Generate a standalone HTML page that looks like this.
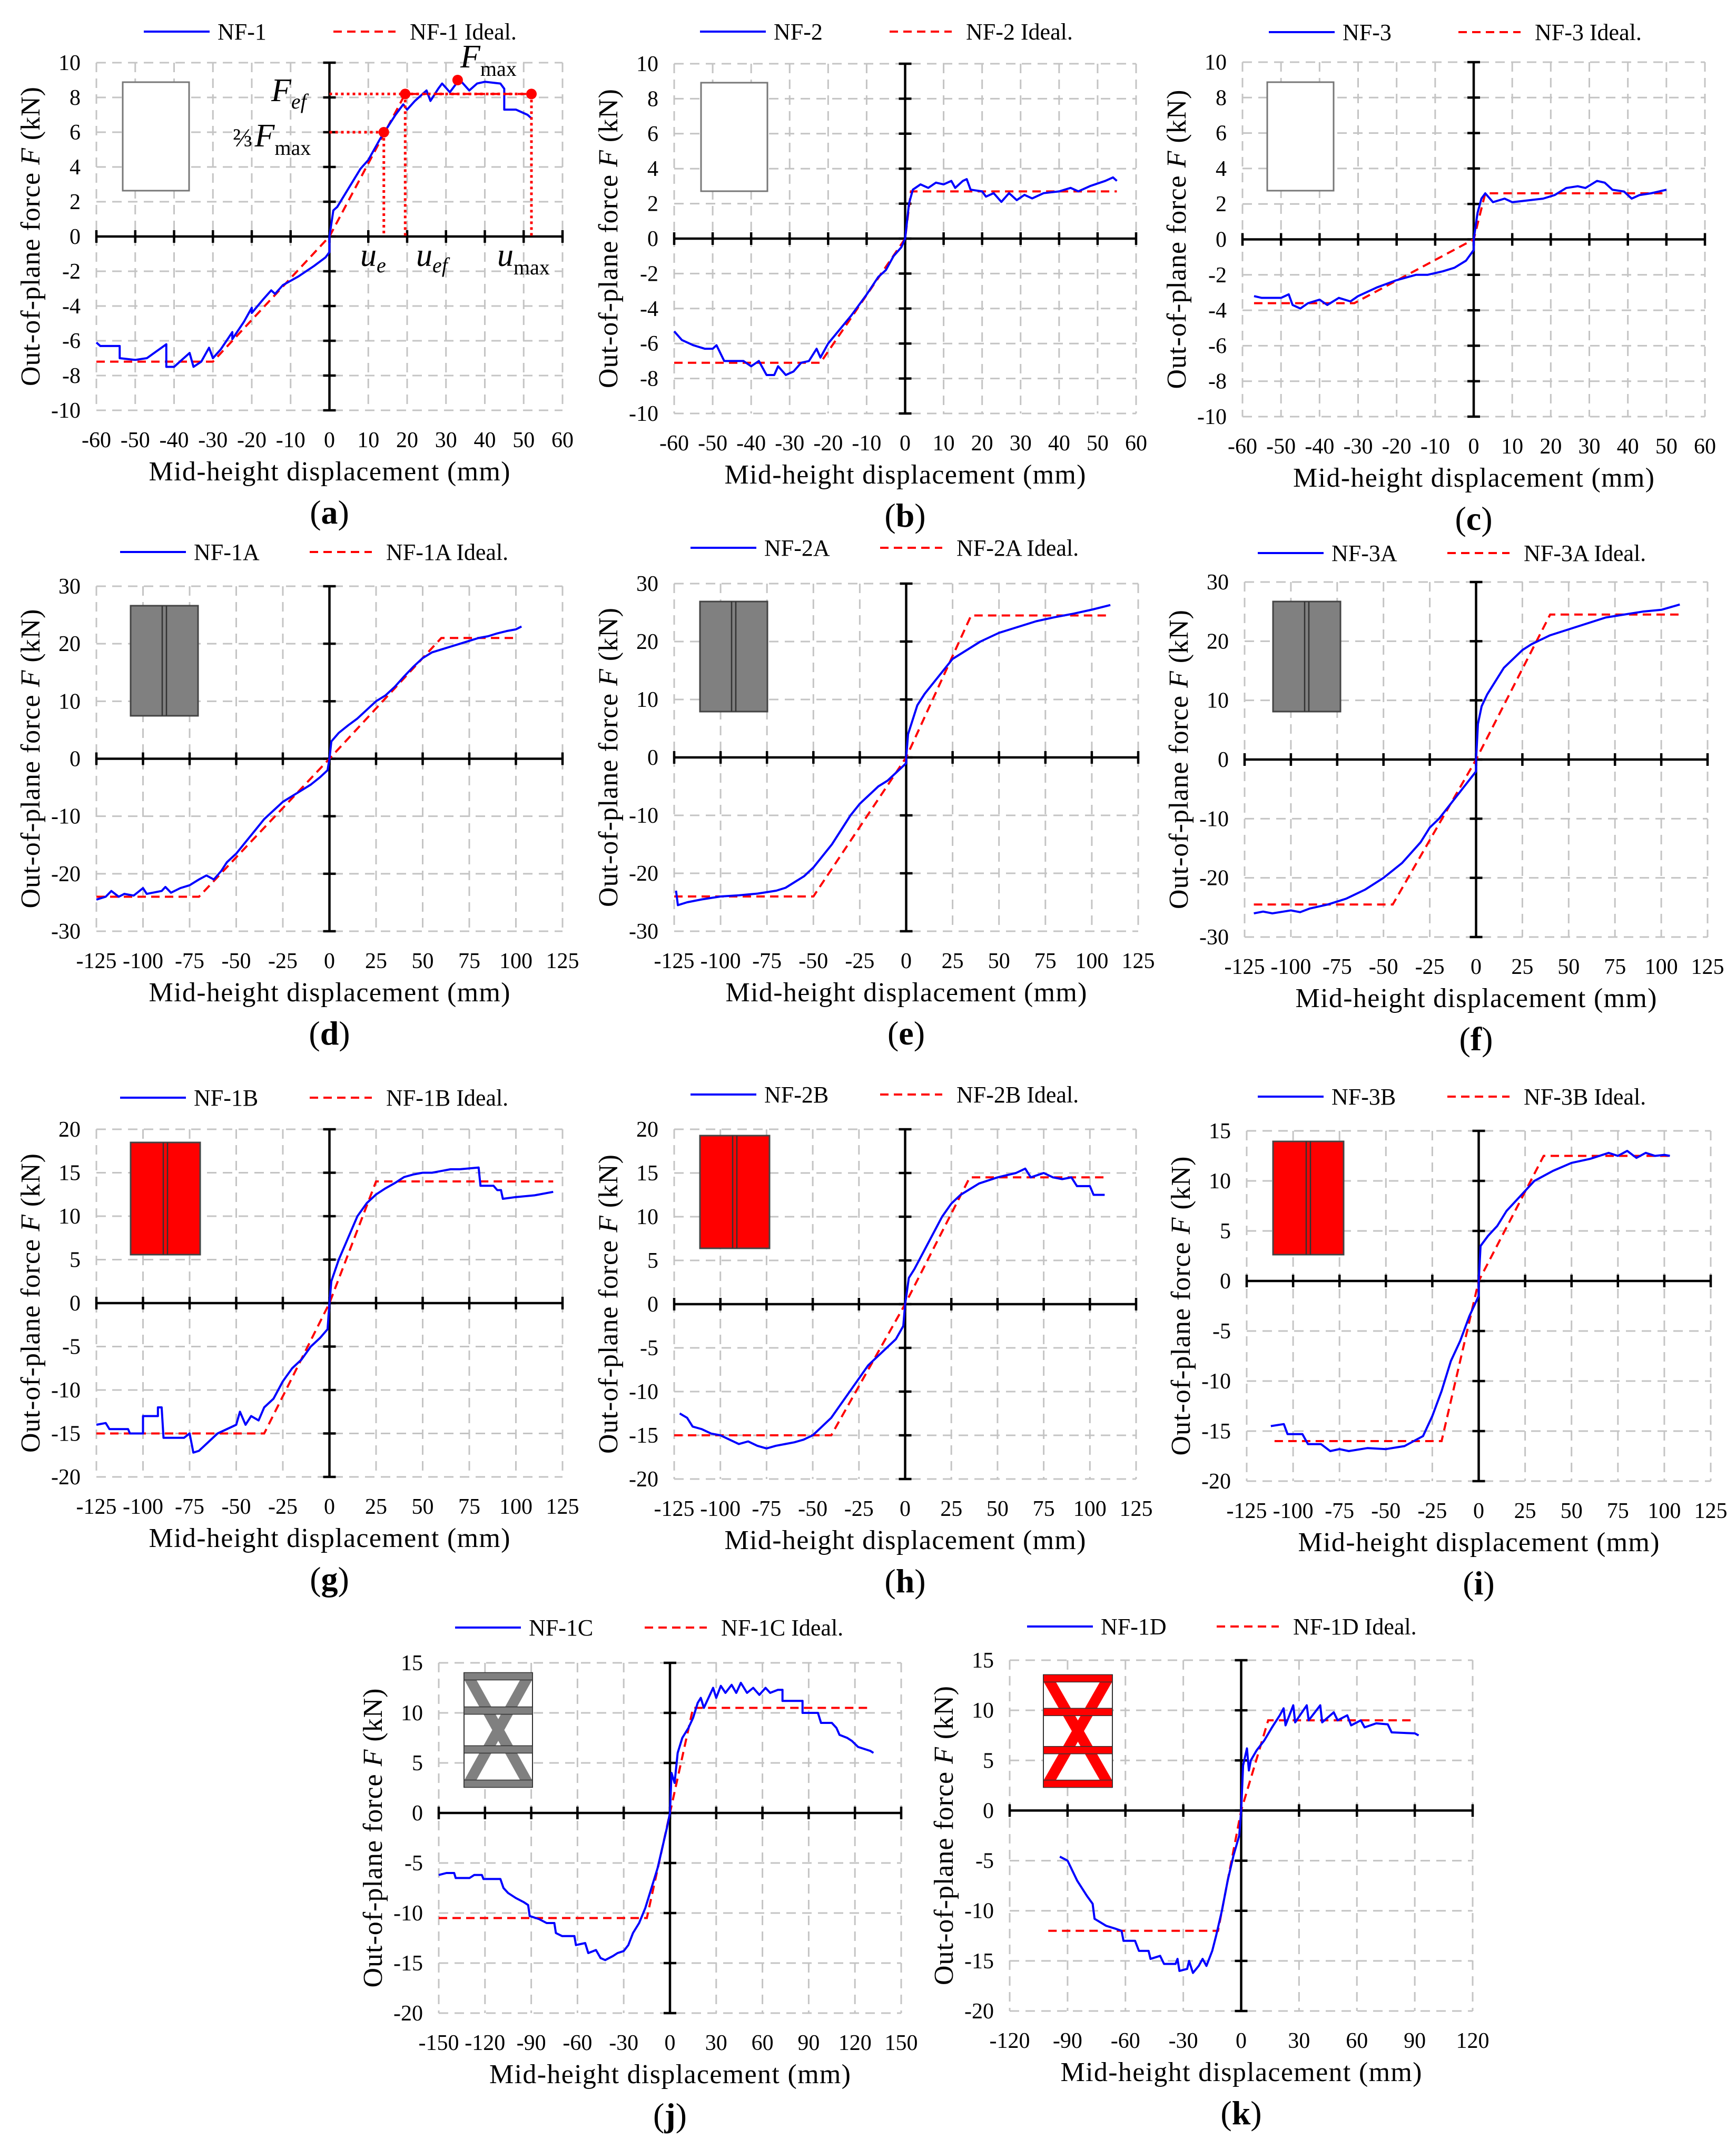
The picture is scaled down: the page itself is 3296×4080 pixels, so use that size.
<!DOCTYPE html>
<html><head><meta charset="utf-8"><title>Out-of-plane force vs mid-height displacement</title>
<style>
html,body{margin:0;padding:0;background:#fff;}
svg{display:block;font-family:"Liberation Serif","DejaVu Serif",serif;}
</style></head>
<body>
<svg id="fig" xmlns="http://www.w3.org/2000/svg" width="3296" height="4080" viewBox="0 0 3296 4080"></svg>
<script>
// ---- Tick label arrays ----
const xt60 = [-60,-50,-40,-30,-20,-10,0,10,20,30,40,50,60];
const xt125 = [-125,-100,-75,-50,-25,0,25,50,75,100,125];
const xt150 = [-150,-120,-90,-60,-30,0,30,60,90,120,150];
const xt120 = [-120,-90,-60,-30,0,30,60,90,120];
const yt10 = [-10,-8,-6,-4,-2,0,2,4,6,8,10];
const yt30 = [-30,-20,-10,0,10,20,30];
const yt20 = [-20,-15,-10,-5,0,5,10,15,20];
const yt15 = [-20,-15,-10,-5,0,5,10,15];

// ---- (a) NF-1 ----
const aX = [-60,-59,-54,-54,-50,-47,-42,-42,-40,-38,-36,-35,-33,-31,-30,-28,-25,-25,-22,-20,-20,-17,-15,-14,-12,-8,-4,-1,0,0,1,2,5,8,10,13,15,17,19,20,22,25,26,28,29,31,33,34,36,38,40,44,45,45,48,51,52];
const aY = [-6.1,-6.3,-6.3,-7.0,-7.1,-7.0,-6.2,-7.5,-7.5,-7.1,-6.7,-7.5,-7.2,-6.4,-7.0,-6.5,-5.5,-5.9,-4.9,-4.1,-4.4,-3.6,-3.1,-3.3,-2.8,-2.3,-1.7,-1.2,-0.9,0,1.5,1.7,2.8,3.9,4.4,5.6,6.3,7.0,7.6,7.3,7.8,8.4,7.8,8.5,8.8,8.3,8.9,8.9,8.4,8.8,8.9,8.8,8.5,7.3,7.3,7.0,6.8];
const aIX = [-60,-30,0,19.5,52];
const aIY = [-7.2,-7.2,0,8.2,8.2];
// ---- (b) NF-2 ----
const bX = [-60,-58,-55,-52,-50,-49,-47,-42,-40,-38,-36,-34,-33,-31,-29,-27,-25,-23,-22,-20,-17,-14,-10,-7,-5,-3,-1,0,0.5,1,2,4,6,8,10,12,13,15,16,17,20,21,23,25,27,29,31,33,36,40,43,45,48,52,54,55];
const bY = [-5.3,-5.8,-6.1,-6.3,-6.3,-6.1,-7.0,-7.0,-7.3,-7.0,-7.8,-7.8,-7.3,-7.8,-7.6,-7.1,-7.0,-6.3,-6.8,-6.0,-5.2,-4.4,-3.2,-2.2,-1.8,-1.0,-0.5,0,1,2.0,2.8,3.1,2.9,3.2,3.1,3.3,2.9,3.3,3.4,2.8,2.7,2.4,2.6,2.1,2.6,2.2,2.5,2.3,2.6,2.7,2.9,2.7,3.0,3.3,3.5,3.3];
const bIX = [-60,-22,0,1.5,55];
const bIY = [-7.1,-7.1,0,2.7,2.7];
// ---- (c) NF-3 ----
const cX = [-57,-55,-50,-48,-47,-45,-43,-40,-38,-35,-32,-30,-28,-25,-20,-15,-12,-8,-5,-2,0,0,1,2,3,5,8,10,14,18,21,24,27,29,32,34,36,39,41,43,46,50];
const cY = [-3.2,-3.3,-3.3,-3.1,-3.7,-3.9,-3.6,-3.4,-3.7,-3.3,-3.5,-3.2,-3.0,-2.7,-2.3,-2.0,-2.0,-1.8,-1.6,-1.2,-0.6,0,1.5,2.3,2.6,2.1,2.3,2.1,2.2,2.3,2.5,2.9,3.0,2.9,3.3,3.2,2.8,2.7,2.3,2.5,2.6,2.8];
const cIX = [-57,-31,0,3,50];
const cIY = [-3.6,-3.6,0,2.6,2.6];
// ---- (d) NF-1A ----
const dX = [-125,-120,-117,-113,-110,-105,-100,-98,-90,-88,-85,-80,-75,-70,-66,-62,-58,-55,-50,-45,-40,-35,-30,-25,-20,-15,-10,-5,-1,0,1,5,10,15,20,25,30,35,40,45,50,55,60,65,70,75,80,85,90,95,100,103];
const dY = [-24.5,-24,-23,-24,-23.5,-23.8,-22.5,-23.5,-23,-22.3,-23.3,-22.5,-22,-21,-20.3,-21,-19.5,-18,-16.5,-14.5,-12.5,-10.5,-9,-7.5,-6.5,-5.5,-4.5,-3.2,-2,0,3,4.5,5.8,7,8.5,10,11,12.5,14.3,16,17.5,18.5,19,19.5,20,20.5,21,21.3,21.8,22.2,22.5,23];
const dIX = [-125,-70,0,60,100];
const dIY = [-24,-24,0,21,21];
// ---- (e) NF-2A ----
const eX = [-124,-123,-118,-110,-100,-90,-80,-70,-65,-60,-55,-50,-45,-40,-35,-30,-25,-20,-15,-10,-5,0,0,1,3,6,10,15,20,25,30,40,50,60,70,80,90,100,110];
const eY = [-23,-25.5,-25,-24.5,-24,-23.8,-23.5,-23,-22.5,-21.5,-20.5,-19,-17,-15,-12.5,-10,-8,-6.5,-5,-4,-2.5,-1,0,4,6,9,11,13,15,17,18,20,21.5,22.5,23.5,24.2,24.8,25.5,26.3];
const eIX = [-125,-50,0,35,110];
const eIY = [-24,-24,0,24.5,24.5];
// ---- (f) NF-3A ----
const fX = [-120,-115,-110,-100,-95,-90,-80,-70,-60,-50,-40,-30,-25,-20,-15,-10,-5,0,0,1,3,6,10,15,20,25,30,40,50,60,70,80,90,100,110];
const fY = [-26,-25.7,-26,-25.5,-25.8,-25.2,-24.5,-23.5,-22,-20,-17.5,-14,-11.5,-10,-8,-6,-4,-2,0,6,9,11,13,15.5,17,18.5,19.5,21,22,23,24,24.5,25,25.3,26.2];
const fIX = [-120,-45,0,40,110];
const fIY = [-24.5,-24.5,0,24.5,24.5];
// ---- (g) NF-1B ----
const gX = [-125,-120,-118,-108,-107,-100,-100,-92,-92,-90,-89,-78,-75,-73,-70,-65,-60,-55,-50,-48,-45,-42,-38,-35,-30,-25,-20,-15,-10,-5,-1,0,1,5,10,15,20,25,30,35,40,45,50,55,60,65,70,75,80,81,88,90,92,93,100,110,120];
const gY = [-14,-13.8,-14.5,-14.5,-15,-15,-13,-13,-12,-12,-15.5,-15.5,-15,-17.2,-17,-16,-15,-14.5,-14,-12.5,-14,-13,-13.5,-12,-11,-9,-7.5,-6.5,-5,-4,-3,0,2.5,5,7.5,10,11.5,12.5,13.2,13.8,14.5,14.8,15,15,15.2,15.4,15.4,15.5,15.6,13.5,13.5,13,13,12,12.2,12.4,12.8];
const gIX = [-125,-35,0,25,120];
const gIY = [-15,-15,0,14,14];
// ---- (h) NF-2B ----
const hX = [-122,-118,-115,-110,-105,-100,-95,-90,-85,-80,-75,-70,-65,-60,-55,-50,-45,-40,-35,-30,-25,-20,-15,-10,-5,-1,0,2,5,10,15,20,25,30,40,50,60,65,68,75,80,85,90,93,100,102,108];
const hY = [-12.5,-13,-14,-14.3,-14.8,-15,-15.5,-16,-15.7,-16.2,-16.5,-16.2,-16,-15.8,-15.5,-15,-14,-13,-11.5,-10,-8.5,-7,-6,-5,-4,-2.5,0,3,4,6,8,10,11.5,12.5,13.8,14.5,15,15.5,14.5,15,14.5,14.3,14.5,13.5,13.5,12.5,12.5];
const hIX = [-125,-40,0,35,108];
const hIY = [-15,-15,0,14.5,14.5];
// ---- (i) NF-3B ----
const iX = [-112,-105,-103,-95,-92,-85,-80,-75,-70,-60,-50,-40,-30,-25,-20,-15,-10,-5,0,0,1,5,10,15,20,25,30,40,50,60,70,75,80,85,90,95,100,103];
const iY = [-14.5,-14.3,-15.3,-15.3,-16.3,-16.3,-17,-16.8,-17,-16.7,-16.8,-16.5,-15.5,-13.5,-11,-8,-6,-3.5,-1.5,0,3.5,4.5,5.5,7,8,9,10,11,11.8,12.2,12.8,12.5,13,12.3,12.8,12.5,12.6,12.5];
const iIX = [-110,-20,0,35,103];
const iIY = [-16,-16,0,12.5,12.5];
// ---- (j) NF-1C ----
const jX = [-150,-145,-140,-139,-130,-127,-122,-121,-110,-108,-105,-100,-95,-92,-91,-85,-80,-75,-74,-70,-62,-61,-55,-53,-48,-45,-42,-37,-34,-30,-27,-24,-20,-16,-12,-8,-5,-2,0,1,3,5,8,12,15,18,20,22,25,28,30,33,36,40,43,46,50,54,58,62,65,70,73,73,86,86,96,98,105,108,110,115,118,122,130,132];
const jY = [-6.2,-6,-6,-6.5,-6.5,-6.2,-6.2,-6.6,-6.6,-7.5,-8,-8.5,-8.9,-9.2,-10.3,-10.6,-11,-11,-12,-12.3,-12.3,-13.2,-13,-14,-13.7,-14.5,-14.7,-14.3,-14,-13.8,-13.2,-12,-11,-9.5,-7.5,-5.5,-3.5,-1.5,0,4,3,6,7.5,8.5,9.5,11,11.5,10.5,11.5,12.5,11.5,12.7,12,12.8,12,13,12,12.5,11.8,12.5,12,12.3,12.3,11.2,11.2,10,10,9,9,8.5,7.8,7.5,7.2,6.6,6.2,6];
const jIX = [-150,-15,0,15,130];
const jIY = [-10.5,-10.5,0,10.5,10.5];
// ---- (k) NF-1D ----
const kX = [-94,-90,-85,-80,-77,-76,-70,-65,-62,-61,-55,-53,-48,-47,-42,-40,-34,-33,-32,-28,-27,-25,-22,-20,-18,-15,-13,-10,-7,-4,-1,0,1,3,4,5,8,12,16,20,22,23,27,28,34,35,41,42,48,50,55,57,62,64,70,76,78,90,92];
const kY = [-4.6,-5,-7,-8.5,-9.3,-10.8,-11.5,-11.8,-12,-13,-13,-14,-14,-14.8,-14.5,-15.3,-15.3,-14.8,-16,-15.8,-15,-16.2,-15.5,-14.8,-15.5,-14,-12.5,-10,-7,-4.5,-2.5,0,4.5,6.2,4,5,6,7,8.3,9.5,10.2,8.5,10.5,8.8,10.5,9,10.5,8.8,9.8,9,9.5,8.5,9,8.3,8.7,8.6,7.8,7.7,7.5];
const kIX = [-100,-12,0,14,90];
const kIY = [-12,-12,0,9,9];

// ---- (a) annotation points ----
const annX = [14,19.5,33,52];
const annY = [6,8.2,9,8.2];

const NS = "http://www.w3.org/2000/svg";
const svg = document.getElementById('fig');
function mk(tag, attrs, parent){
  const e = document.createElementNS(NS, tag);
  for (const k in attrs) e.setAttribute(k, attrs[k]);
  (parent||svg).appendChild(e);
  return e;
}
function txt(str, x, y, size, anchor, parent, extra){
  const t = mk('text', Object.assign({x:x, y:y, 'font-size':size, 'text-anchor':anchor||'middle', fill:'#000'}, extra||{}), parent);
  t.textContent = str;
  return t;
}

const panels = [
 {id:'a', L:183, R:1068, T:119, B:779, xr:[-60,60], yr:[-10,10], xt:xt60, yt:yt10, X:aX, Y:aY, IX:aIX, IY:aIY, name:'NF-1', lg:[273,60], inset:'white', ins:[50,37,126,206]},
 {id:'b', L:1280, R:2157, T:121, B:785, xr:[-60,60], yr:[-10,10], xt:xt60, yt:yt10, X:bX, Y:bY, IX:bIX, IY:bIY, name:'NF-2', lg:[1329,60], inset:'white', ins:[51,36,126,206]},
 {id:'c', L:2359, R:3237, T:118, B:791, xr:[-60,60], yr:[-10,10], xt:xt60, yt:yt10, X:cX, Y:cY, IX:cIX, IY:cIY, name:'NF-3', lg:[2409,61], inset:'white', ins:[47,38,126,206]},
 {id:'d', L:183, R:1068, T:1113, B:1768, xr:[-125,125], yr:[-30,30], xt:xt125, yt:yt30, X:dX, Y:dY, IX:dIX, IY:dIY, name:'NF-1A', lg:[228,1048], inset:'gray', ins:[65,37,128,209]},
 {id:'e', L:1280, R:2161, T:1108, B:1768, xr:[-125,125], yr:[-30,30], xt:xt125, yt:yt30, X:eX, Y:eY, IX:eIX, IY:eIY, name:'NF-2A', lg:[1311,1040], inset:'gray', ins:[49,34,128,209]},
 {id:'f', L:2363, R:3242, T:1105, B:1779, xr:[-125,125], yr:[-30,30], xt:xt125, yt:yt30, X:fX, Y:fY, IX:fIX, IY:fIY, name:'NF-3A', lg:[2388,1050], inset:'gray', ins:[54,37,128,209]},
 {id:'g', L:183, R:1068, T:2144, B:2804, xr:[-125,125], yr:[-20,20], xt:xt125, yt:yt20, X:gX, Y:gY, IX:gIX, IY:gIY, name:'NF-1B', lg:[228,2084], inset:'red', ins:[65,25,132,213]},
 {id:'h', L:1280, R:2157, T:2144, B:2808, xr:[-125,125], yr:[-20,20], xt:xt125, yt:yt20, X:hX, Y:hY, IX:hIX, IY:hIY, name:'NF-2B', lg:[1311,2078], inset:'red', ins:[49,12,132,214]},
 {id:'i', L:2367, R:3248, T:2147, B:2812, xr:[-125,125], yr:[-20,15], xt:xt125, yt:yt15, X:iX, Y:iY, IX:iIX, IY:iIY, name:'NF-3B', lg:[2388,2082], inset:'red', ins:[50,20,134,215]},
 {id:'j', L:833, R:1711, T:3157, B:3822, xr:[-150,150], yr:[-20,15], xt:xt150, yt:yt15, X:jX, Y:jY, IX:jIX, IY:jIY, name:'NF-1C', lg:[864,3090], inset:'lattice-gray', ins:[48,19,130,217]},
 {id:'k', L:1917, R:2796, T:3152, B:3818, xr:[-120,120], yr:[-20,15], xt:xt120, yt:yt15, X:kX, Y:kY, IX:kIX, IY:kIY, name:'NF-1D', lg:[1950,3088], inset:'lattice-red', ins:[64,28,131,213]}
];

function drawInset(p, g){
  const x = p.L + p.ins[0], y = p.T + p.ins[1], w = p.ins[2], h = p.ins[3];
  if (p.inset === 'white'){
    mk('rect', {x:x, y:y, width:w, height:h, fill:'#fff', stroke:'#777', 'stroke-width':3}, g);
  } else if (p.inset === 'gray' || p.inset === 'red'){
    const col = p.inset === 'gray' ? '#808080' : '#ff0000';
    mk('rect', {x:x, y:y, width:w, height:h, fill:col, stroke:'#444', 'stroke-width':3}, g);
    mk('line', {x1:x+w/2-4, y1:y, x2:x+w/2-4, y2:y+h, stroke:'#333', 'stroke-width':2.5}, g);
    mk('line', {x1:x+w/2+4, y1:y, x2:x+w/2+4, y2:y+h, stroke:'#333', 'stroke-width':2.5}, g);
  } else {
    const col = p.inset === 'lattice-gray' ? '#808080' : '#ff0000';
    mk('rect', {x:x, y:y, width:w, height:h, fill:'#fff', stroke:'#333', 'stroke-width':2}, g);
    mk('line', {x1:x+8, y1:y+6, x2:x+w-8, y2:y+h-6, stroke:col, 'stroke-width':20}, g);
    mk('line', {x1:x+w-8, y1:y+6, x2:x+8, y2:y+h-6, stroke:col, 'stroke-width':20}, g);
    [0.03, 0.33, 0.67, 0.97].forEach(f => {
      mk('rect', {x:x, y:y + f*h - 7, width:w, height:14, fill:col, stroke:'#333', 'stroke-width':1.5}, g);
    });
  }
}

panels.forEach(p => {
  const g = mk('g', {});
  
  
  const sx = v => p.L + (v - p.xr[0]) / (p.xr[1] - p.xr[0]) * (p.R - p.L);
  const sy = v => p.B - (v - p.yr[0]) / (p.yr[1] - p.yr[0]) * (p.B - p.T);

  const grid = mk('g', {stroke:'#c4c4c4', 'stroke-width':3, 'stroke-dasharray':'18,12', fill:'none'}, g);
  
  
  p.xt.forEach(v => { if (v !== 0) mk('line', {x1:sx(v), y1:p.T, x2:sx(v), y2:p.B}, grid); });
  p.yt.forEach(v => { if (v !== 0) mk('line', {x1:p.L, y1:sy(v), x2:p.R, y2:sy(v)}, grid); });

  const ax = mk('g', {stroke:'#000', 'stroke-width':4.5}, g);
  
  
  mk('line', {x1:p.L, y1:sy(0), x2:p.R, y2:sy(0)}, ax);
  mk('line', {x1:sx(0), y1:p.T, x2:sx(0), y2:p.B}, ax);
  p.xt.forEach(v => mk('line', {x1:sx(v), y1:sy(0)-12, x2:sx(v), y2:sy(0)+12}, ax));
  p.yt.forEach(v => mk('line', {x1:sx(0)-12, y1:sy(v), x2:sx(0)+12, y2:sy(v)}, ax));

  p.xt.forEach(v => {
    const t = txt(String(v), sx(v), p.B + 70, 42, 'middle', g);
    
    
  });
  p.yt.forEach(v => {
    const t = txt(String(v), p.L - 30, sy(v) + 14, 42, 'end', g);
    
    
  });

  const xtl = txt('Mid-height displacement (mm)', (p.L + p.R) / 2, p.B + 133, 52, 'middle', g, {textLength:686, lengthAdjust:'spacing'});
  
  
  const cy = (p.T + p.B) / 2, cx = p.L - 108;
  const ytl = mk('text', {x:cx, y:cy, 'font-size':52, 'text-anchor':'middle', transform:'rotate(-90 '+cx+' '+cy+')', textLength:568, lengthAdjust:'spacing'}, g);
  
  
  ytl.appendChild(document.createTextNode('Out-of-plane force '));
  const fi = mk('tspan', {'font-style':'italic'}, ytl); fi.textContent = 'F';
  ytl.appendChild(document.createTextNode(' (kN)'));

  const pl = mk('text', {x:(p.L+p.R)/2, y:p.B + 215, 'font-size':64, 'text-anchor':'middle'}, g);
  
  
  pl.appendChild(document.createTextNode('('));
  const b = mk('tspan', {'font-weight':'bold'}, pl); b.textContent = p.id;
  pl.appendChild(document.createTextNode(')'));

  const ig = mk('g', {}, g);
  
  
  drawInset(p, ig);

  const ideal = mk('polyline', {points:p.IX.map((v,i)=>sx(v)+','+sy(p.IY[i])).join(' '), fill:'none', stroke:'#ff0000', 'stroke-width':4, 'stroke-dasharray':'16,10'}, g);
  
  

  const test = mk('polyline', {points:p.X.map((v,i)=>sx(v)+','+sy(p.Y[i])).join(' '), fill:'none', stroke:'#0000ff', 'stroke-width':4, 'stroke-linejoin':'round'}, g);
  
  

  const lg = mk('g', {}, g);
  
  
  const X0 = p.lg[0], Y0 = p.lg[1];
  mk('line', {x1:X0, y1:Y0, x2:X0+125, y2:Y0, stroke:'#0000ff', 'stroke-width':4}, lg);
  const l1 = txt(p.name, X0+140, Y0+15, 44, 'start', lg);
  
  
  mk('line', {x1:X0+360, y1:Y0, x2:X0+478, y2:Y0, stroke:'#ff0000', 'stroke-width':4, 'stroke-dasharray':'16,10'}, lg);
  const l2 = txt(p.name + ' Ideal.', X0+505, Y0+15, 44, 'start', lg);
  
  

  if (p.id === 'a'){
    const an = mk('g', {}, g);
    
    
    const dot = {stroke:'#ff0000', 'stroke-width':5, 'stroke-dasharray':'5,6', fill:'none'};
    mk('line', Object.assign({x1:sx(0), y1:sy(annY[1]), x2:sx(annX[3]), y2:sy(annY[3])}, dot), an);
    mk('line', Object.assign({x1:sx(0), y1:sy(annY[0]), x2:sx(annX[0]), y2:sy(annY[0])}, dot), an);
    mk('line', Object.assign({x1:sx(annX[0]), y1:sy(annY[0]), x2:sx(annX[0]), y2:sy(0)}, dot), an);
    mk('line', Object.assign({x1:sx(annX[1]), y1:sy(annY[1]), x2:sx(annX[1]), y2:sy(0)}, dot), an);
    mk('line', Object.assign({x1:sx(annX[3]), y1:sy(annY[3]), x2:sx(annX[3]), y2:sy(0)}, dot), an);
    annX.forEach((v,i) => {
      const c = mk('circle', {cx:sx(v), cy:sy(annY[i]), r:10, fill:'#ff0000'}, an);
      
      
    });
    const lab = (parts, x, y) => {
      const t = mk('text', {x:x, y:y, 'font-size':62, 'text-anchor':'start'}, an);
      parts.forEach(pt => {
        const s = mk('tspan', pt.a, t); s.textContent = pt.s;
      });
      return t;
    };
    lab([{s:'F', a:{'font-style':'italic'}}, {s:'ef', a:{'font-style':'italic','font-size':40, dy:14}}], 515, 192);
    lab([{s:'⅔', a:{'font-size':50}}, {s:'F', a:{'font-style':'italic', dx:4}}, {s:'max', a:{'font-size':40, dy:16}}], 442, 278);
    lab([{s:'F', a:{'font-style':'italic'}}, {s:'max', a:{'font-size':40, dy:16}}], 874, 128);
    lab([{s:'u', a:{'font-style':'italic'}}, {s:'e', a:{'font-style':'italic','font-size':40, dy:12}}], 684, 505);
    lab([{s:'u', a:{'font-style':'italic'}}, {s:'ef', a:{'font-style':'italic','font-size':40, dy:12}}], 790, 505);
    lab([{s:'u', a:{'font-style':'italic'}}, {s:'max', a:{'font-size':40, dy:16}}], 944, 505);
  }
});
</script>
</body></html>
